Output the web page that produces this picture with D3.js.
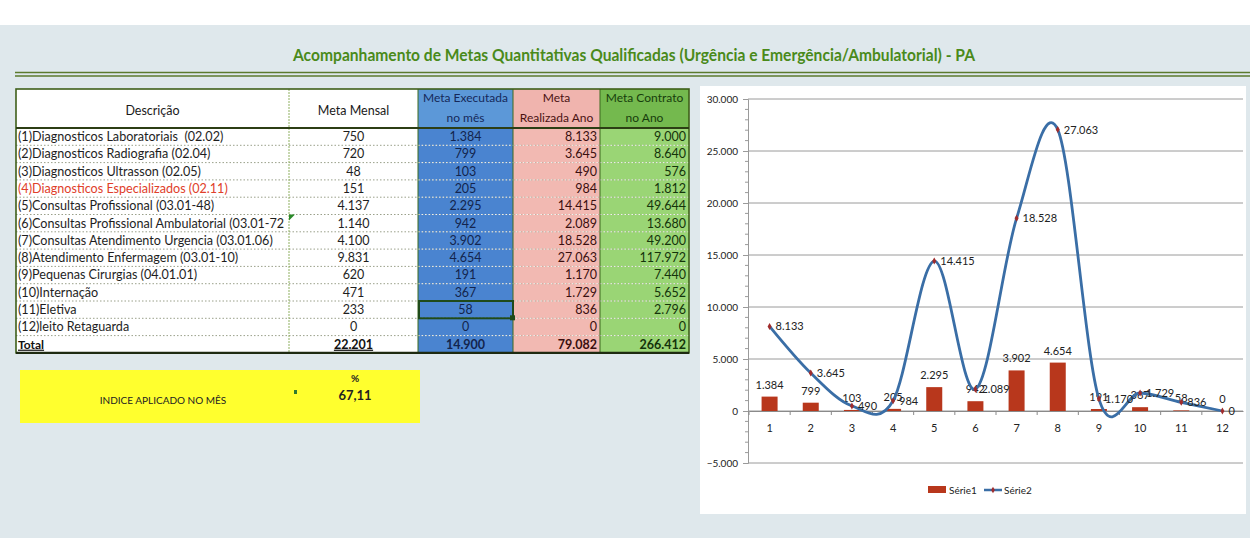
<!DOCTYPE html>
<html><head><meta charset="utf-8">
<script src="https://cdn.jsdelivr.net/npm/d3@7"></script>
<style>
html,body{margin:0;padding:0;background:#fff;}
svg{display:block;font-family:Lato,"Open Sans",sans-serif;}
text{white-space:pre;}
</style></head>
<body>
<svg id="c" width="1250" height="538"></svg>
<script>
// ---- data ----
const titulo = "Acompanhamento de Metas Quantitativas Qualificadas (Urgência e Emergência/Ambulatorial) - PA";
const descricao = [
  "(1)Diagnosticos Laboratoriais  (02.02)",
  "(2)Diagnosticos Radiografia (02.04)",
  "(3)Diagnosticos Ultrasson (02.05)",
  "(4)Diagnosticos Especializados (02.11)",
  "(5)Consultas Profissional (03.01-48)",
  "(6)Consultas Profissional Ambulatorial (03.01-72",
  "(7)Consultas Atendimento Urgencia (03.01.06)",
  "(8)Atendimento Enfermagem (03.01-10)",
  "(9)Pequenas Cirurgias (04.01.01)",
  "(10)Internação",
  "(11)Eletiva",
  "(12)leito Retaguarda"
];
const metaMensal = [750, 720, 48, 151, 4137, 1140, 4100, 9831, 620, 471, 233, 0];
const metaExecutada = [1384, 799, 103, 205, 2295, 942, 3902, 4654, 191, 367, 58, 0];
const metaRealizadaAno = [8133, 3645, 490, 984, 14415, 2089, 18528, 27063, 1170, 1729, 836, 0];
const metaContratoAno = [9000, 8640, 576, 1812, 49644, 13680, 49200, 117972, 7440, 5652, 2796, 0];
const categorias = ["1","2","3","4","5","6","7","8","9","10","11","12"];
const yTicks = [-5000, 0, 5000, 10000, 15000, 20000, 25000, 30000];
const serieNomes = ["Série1", "Série2"];

// ---- helpers ----
const loc = d3.formatLocale({decimal:",", thousands:".", grouping:[3], currency:["",""]});
const fmt = loc.format(",d");
const fmtPct = loc.format(".2f");
const svg = d3.select("#c");

// background
svg.append("rect").attr("width",1250).attr("height",538).attr("fill","#dfe8ec");
svg.append("rect").attr("width",1250).attr("height",25).attr("fill","#ffffff");

// title
svg.append("text").attr("x",634).attr("y",61).attr("text-anchor","middle")
  .attr("font-size",17).attr("font-weight","bold").attr("fill","#4a8a1a")
  .attr("textLength",682).attr("lengthAdjust","spacingAndGlyphs").text(titulo);
svg.append("line").attr("x1",15).attr("x2",1250).attr("y1",72.5).attr("y2",72.5).attr("stroke","#5b7a2c").attr("stroke-width",1.5);
svg.append("line").attr("x1",15).attr("x2",1250).attr("y1",76).attr("y2",76).attr("stroke","#5b7a2c").attr("stroke-width",1.5);

// ---- table ----
const T = {x0:16, x1:289, x2:418, x3:513, x4:600, x5:689, top:89, head:128, rowH:17.3};
const nRows = descricao.length + 1;
const bottom = T.head + nRows*T.rowH;
const tbl = svg.append("g");
tbl.append("rect").attr("x",T.x0).attr("y",T.top).attr("width",T.x2-T.x0).attr("height",bottom-T.top).attr("fill","#ffffff");
tbl.append("rect").attr("x",T.x2).attr("y",T.top).attr("width",T.x3-T.x2).attr("height",T.head-T.top).attr("fill","#5c98d8");
tbl.append("rect").attr("x",T.x3).attr("y",T.top).attr("width",T.x4-T.x3).attr("height",T.head-T.top).attr("fill","#f0b4ae");
tbl.append("rect").attr("x",T.x4).attr("y",T.top).attr("width",T.x5-T.x4).attr("height",T.head-T.top).attr("fill","#74b94e");
tbl.append("rect").attr("x",T.x2).attr("y",T.head).attr("width",T.x3-T.x2).attr("height",bottom-T.head).attr("fill","#4a84d0");
tbl.append("rect").attr("x",T.x3).attr("y",T.head).attr("width",T.x4-T.x3).attr("height",bottom-T.head).attr("fill","#f2b9b2");
tbl.append("rect").attr("x",T.x4).attr("y",T.head).attr("width",T.x5-T.x4).attr("height",bottom-T.head).attr("fill","#9ad575");

// header texts
const hdr = [
  {x:(T.x0+T.x1)/2, lines:["Descrição"], c:"#1a1a1a"},
  {x:(T.x1+T.x2)/2, lines:["Meta Mensal"], c:"#1a1a1a"},
  {x:(T.x2+T.x3)/2, lines:["Meta Executada","no mês"], c:"#15285a"},
  {x:(T.x3+T.x4)/2, lines:["Meta","Realizada Ano"], c:"#4a1212"},
  {x:(T.x4+T.x5)/2, lines:["Meta Contrato","no Ano"], c:"#173d0c"}
];
hdr.forEach(h=>{
  if(h.lines.length===1){
    tbl.append("text").attr("x",h.x).attr("y",115).attr("text-anchor","middle").attr("font-size",12.5).attr("fill",h.c).text(h.lines[0]);
  } else {
    h.lines.forEach((l,i)=>tbl.append("text").attr("x",h.x).attr("y",102+i*20).attr("text-anchor","middle").attr("font-size",12).attr("fill",h.c).text(l));
  }
});

// row separators (dotted)
for(let i=1;i<nRows;i++){
  const yy = T.head + i*T.rowH;
  tbl.append("line").attr("x1",T.x0).attr("x2",T.x5).attr("y1",yy).attr("y2",yy)
    .attr("stroke", "#9aa08a").attr("stroke-width",1).attr("stroke-dasharray","1.5,2");
  tbl.append("line").attr("x1",T.x2).attr("x2",T.x5).attr("y1",yy).attr("y2",yy)
    .attr("stroke", "#ffffff").attr("stroke-width",1).attr("stroke-dasharray","1.5,2").attr("opacity",0.85);
}
// column separators
[T.x1].forEach(xx=>tbl.append("line").attr("x1",xx).attr("x2",xx).attr("y1",T.top).attr("y2",bottom).attr("stroke","#8fb060").attr("stroke-width",1).attr("stroke-dasharray","2,1"));
[T.x2,T.x3,T.x4].forEach(xx=>tbl.append("line").attr("x1",xx).attr("x2",xx).attr("y1",T.top).attr("y2",bottom).attr("stroke","#3d6a1e").attr("stroke-width",1));
// borders
tbl.append("rect").attr("x",T.x0).attr("y",T.top).attr("width",T.x5-T.x0).attr("height",bottom-T.top).attr("fill","none").attr("stroke","#3f5f1a").attr("stroke-width",1.6);
tbl.append("line").attr("x1",T.x0).attr("x2",T.x5).attr("y1",T.head).attr("y2",T.head).attr("stroke","#2c3e14").attr("stroke-width",2.2);
tbl.append("line").attr("x1",T.x0).attr("x2",T.x5).attr("y1",bottom).attr("y2",bottom).attr("stroke","#1e2a10").attr("stroke-width",2.4);

// rows
const rowY = i => T.head + i*T.rowH + T.rowH/2 + 4.4;
descricao.forEach((d,i)=>{
  const yy = rowY(i);
  tbl.append("text").attr("x",T.x0+2).attr("y",yy).attr("font-size",12.6).attr("fill", i===3?"#e0402a":"#1e1e1e").text(d);
  tbl.append("text").attr("x",(T.x1+T.x2)/2).attr("y",yy).attr("text-anchor","middle").attr("font-size",12.5).attr("fill","#1e1e1e").text(fmt(metaMensal[i]));
  tbl.append("text").attr("x",(T.x2+T.x3)/2).attr("y",yy).attr("text-anchor","middle").attr("font-size",12.5).attr("fill","#13244d").text(fmt(metaExecutada[i]));
  tbl.append("text").attr("x",T.x4-3).attr("y",yy).attr("text-anchor","end").attr("font-size",12.5).attr("fill","#3a0f0f").text(fmt(metaRealizadaAno[i]));
  tbl.append("text").attr("x",T.x5-3).attr("y",yy).attr("text-anchor","end").attr("font-size",12.5).attr("fill","#14330a").text(fmt(metaContratoAno[i]));
});
// total row
const ty = rowY(descricao.length);
tbl.append("text").attr("x",T.x0+2).attr("y",ty).attr("font-size",12).attr("font-weight","bold").attr("text-decoration","underline").attr("fill","#111").text("Total");
tbl.append("text").attr("x",(T.x1+T.x2)/2).attr("y",ty).attr("text-anchor","middle").attr("font-size",12.5).attr("font-weight","bold").attr("text-decoration","underline").attr("fill","#111").text(fmt(d3.sum(metaMensal)));
tbl.append("text").attr("x",(T.x2+T.x3)/2).attr("y",ty).attr("text-anchor","middle").attr("font-size",12.5).attr("font-weight","bold").attr("fill","#13244d").text(fmt(d3.sum(metaExecutada)));
tbl.append("text").attr("x",T.x4-3).attr("y",ty).attr("text-anchor","end").attr("font-size",12.5).attr("font-weight","bold").attr("fill","#3a0f0f").text(fmt(d3.sum(metaRealizadaAno)));
tbl.append("text").attr("x",T.x5-3).attr("y",ty).attr("text-anchor","end").attr("font-size",12.5).attr("font-weight","bold").attr("fill","#14330a").text(fmt(d3.sum(metaContratoAno)));
// selected cell (row 11, Meta Executada)
const selY = T.head + 10*T.rowH;
tbl.append("rect").attr("x",T.x2+1).attr("y",selY).attr("width",T.x3-T.x2-1).attr("height",T.rowH).attr("fill","none").attr("stroke","#1f4a1a").attr("stroke-width",2);
tbl.append("rect").attr("x",T.x3-3).attr("y",selY+T.rowH-3).attr("width",5).attr("height",5).attr("fill","#1f4a1a");
// comment marker
tbl.append("path").attr("d",`M${T.x1},${T.head+5*T.rowH} l6,0 l-6,6 z`).attr("fill","#2a8a2a");

// yellow box
svg.append("rect").attr("x",20).attr("y",370).attr("width",400).attr("height",53).attr("fill","#ffff2e");
svg.append("text").attr("x",163).attr("y",404).attr("text-anchor","middle").attr("font-size",10).attr("fill","#222").text("INDICE APLICADO NO MÊS");
svg.append("text").attr("x",355).attr("y",382).attr("text-anchor","middle").attr("font-size",10).attr("font-weight","bold").attr("fill","#222").text("%");
svg.append("text").attr("x",355).attr("y",400).attr("text-anchor","middle").attr("font-size",13).attr("font-weight","bold").attr("fill","#222").text(fmtPct(d3.sum(metaExecutada)/d3.sum(metaMensal)*100));
svg.append("rect").attr("x",294).attr("y",390).attr("width",3).attr("height",4).attr("fill","#2f7a2f");

// ---- chart ----
svg.append("rect").attr("x",700).attr("y",86).attr("width",546).attr("height",428).attr("fill","#ffffff");
const x = d3.scaleBand().domain(categorias).range([749, 1243]);
const y = d3.scaleLinear().domain([-5000, 30000]).range([463, 99]);
const ch = svg.append("g");
// gridlines
ch.selectAll(".grid").data(yTicks).join("line")
  .attr("x1",748).attr("x2",1243).attr("y1",d=>y(d)).attr("y2",d=>y(d))
  .attr("stroke","#9a9a9a").attr("stroke-width",1);
// y axis
const yAxis = d3.axisLeft(y).tickValues(yTicks).tickFormat(fmt).tickSize(5).tickPadding(5);
const ya = ch.append("g").attr("transform","translate(748,0)").call(yAxis);
ya.select(".domain").attr("stroke","#9a9a9a");
ya.selectAll(".tick line").attr("stroke","#9a9a9a");
ya.selectAll("text").attr("font-size",10).attr("font-family","Lato,sans-serif").attr("fill","#222");
const minor = d3.range(-5000, 30001, 1000).filter(v=>v%5000!==0);
ch.selectAll(".minor").data(minor).join("line").attr("x1",745).attr("x2",748).attr("y1",d=>y(d)).attr("y2",d=>y(d)).attr("stroke","#9a9a9a");
// x axis
const xa = ch.append("g").attr("transform",`translate(0,${y(0)})`).call(d3.axisBottom(x).tickSize(0).tickPadding(13));
xa.select(".domain").attr("stroke","#8a8a8a");
xa.selectAll("text").attr("font-size",11).attr("font-family","Lato,sans-serif").attr("fill","#222");
ch.selectAll(".xt").data(categorias).join("line")
  .attr("x1",d=>x(d)).attr("x2",d=>x(d)).attr("y1",y(0)).attr("y2",y(0)+4).attr("stroke","#8a8a8a");

// bars (Série1)
const bw = 16;
ch.selectAll(".bar").data(metaExecutada).join("rect")
  .attr("x",(d,i)=>x(categorias[i])+x.bandwidth()/2-bw/2)
  .attr("y",d=>y(Math.max(0,d))).attr("width",bw).attr("height",d=>Math.abs(y(d)-y(0)))
  .attr("fill","#b8371c");
ch.selectAll(".blab").data(metaExecutada).join("text")
  .attr("x",(d,i)=>x(categorias[i])+x.bandwidth()/2).attr("y",d=>y(d)-8)
  .attr("text-anchor","middle").attr("font-size",11).attr("fill","#222").text(d=>fmt(d));

// line (Série2)
const pts = metaRealizadaAno.map((d,i)=>[x(categorias[i])+x.bandwidth()/2, y(d)]);
ch.append("path").attr("d", d3.line().curve(d3.curveCardinal.tension(0))(pts))
  .attr("fill","none").attr("stroke","#3a6ea6").attr("stroke-width",2.8);
ch.selectAll(".mk").data(pts).join("path")
  .attr("transform",d=>`translate(${d[0]},${d[1]})`)
  .attr("d", d3.symbol(d3.symbolDiamond, 14)).attr("fill","#a02c2c");
ch.selectAll(".llab").data(metaRealizadaAno).join("text")
  .attr("x",(d,i)=>pts[i][0]+6).attr("y",(d,i)=>pts[i][1]+4)
  .attr("font-size",11).attr("fill","#222").text(d=>fmt(d));

// legend
const lg = ch.append("g").attr("transform","translate(928,490)");
lg.append("rect").attr("x",0).attr("y",-4).attr("width",18).attr("height",7).attr("fill","#b8371c");
lg.append("text").attr("x",21).attr("y",3.5).attr("font-size",10).attr("fill","#222").text(serieNomes[0]);
lg.append("line").attr("x1",56).attr("x2",74).attr("y1",0).attr("y2",0).attr("stroke","#3a6ea6").attr("stroke-width",2.5);
lg.append("path").attr("transform","translate(65,0)").attr("d",d3.symbol(d3.symbolDiamond,12)).attr("fill","#a02c2c");
lg.append("text").attr("x",76).attr("y",3.5).attr("font-size",10).attr("fill","#222").text(serieNomes[1]);
</script>
</body></html>
